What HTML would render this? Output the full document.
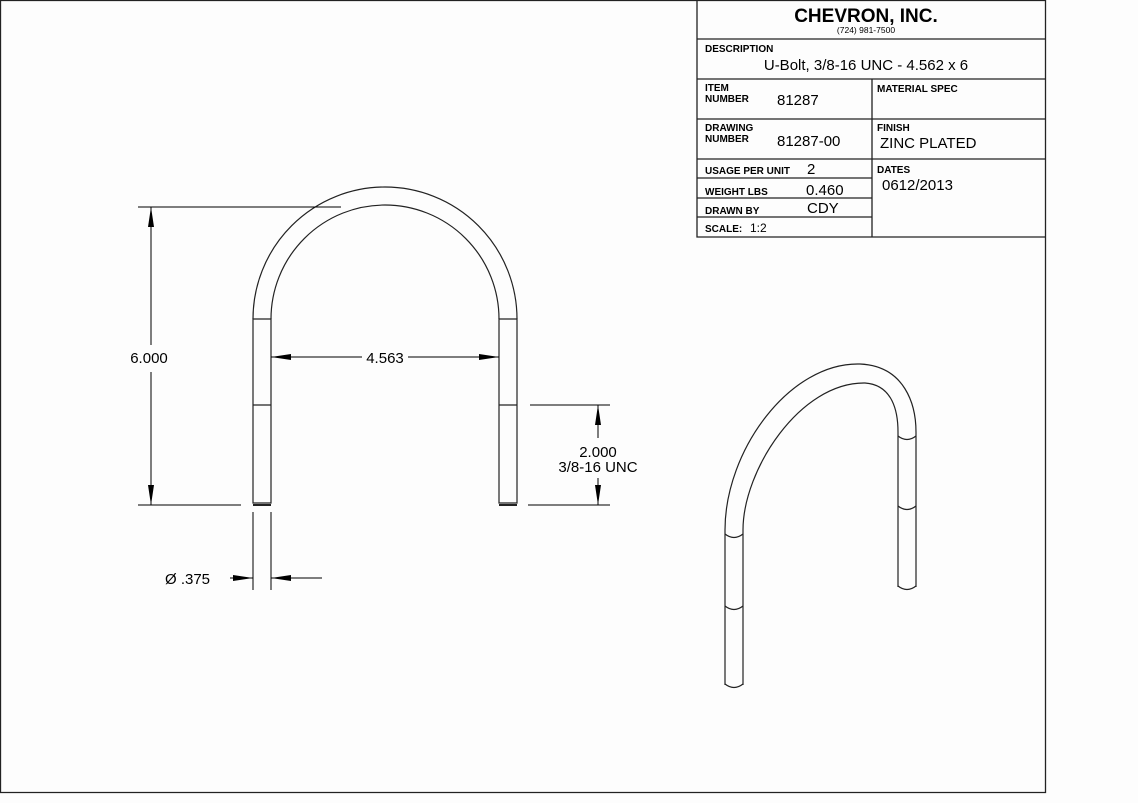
<!DOCTYPE html>
<html><head><meta charset="utf-8"><style>
html,body{margin:0;padding:0;background:#fdfdfd;}
svg{display:block;font-family:"Liberation Sans",sans-serif;}
.b{font-weight:bold;font-size:10px;}
</style></head><body>
<svg width="1138" height="803" viewBox="0 0 1138 803" xmlns="http://www.w3.org/2000/svg">
<defs>
<marker id="a" viewBox="0 0 20 8" refX="20" refY="4" markerWidth="20" markerHeight="8" markerUnits="userSpaceOnUse" orient="auto">
<path d="M0,1 L20,4 L0,7 Z" fill="#000"/></marker>
</defs>
<g fill="none" stroke="#222" stroke-width="1.3">
<path d="M0.5,0.5 H1045.5 V792.5 H0.5 Z"/>
<!-- title block -->
<path d="M697,0 V237 H1045.5 M697,39 H1045.5 M697,79 H1045.5 M697,119 H1045.5 M697,159 H1045.5 M872,79 V237 M697,178 H872 M697,198 H872 M697,217 H872"/>
</g>
<g fill="#000">
<text x="866" y="22" text-anchor="middle" font-weight="bold" font-size="19">CHEVRON, INC.</text>
<text x="866" y="33" text-anchor="middle" font-size="8.5">(724) 981-7500</text>
<text x="705" y="52" class="b">DESCRIPTION</text>
<text x="866" y="70" text-anchor="middle" font-size="15">U-Bolt, 3/8-16 UNC - 4.562 x 6</text>
<text x="705" y="91" class="b">ITEM</text><text x="705" y="102" class="b">NUMBER</text>
<text x="777" y="105" font-size="15">81287</text>
<text x="877" y="92" class="b">MATERIAL SPEC</text>
<text x="705" y="131" class="b">DRAWING</text><text x="705" y="142" class="b">NUMBER</text>
<text x="777" y="146" font-size="15">81287-00</text>
<text x="877" y="131" class="b">FINISH</text>
<text x="880" y="148" font-size="15">ZINC PLATED</text>
<text x="705" y="174" class="b">USAGE PER UNIT</text>
<text x="807" y="174" font-size="15">2</text>
<text x="877" y="173" class="b">DATES</text>
<text x="882" y="190" font-size="15">0612/2013</text>
<text x="705" y="195" class="b">WEIGHT LBS</text>
<text x="806" y="195" font-size="15">0.460</text>
<text x="705" y="214" class="b">DRAWN BY</text>
<text x="807" y="213" font-size="15">CDY</text>
<text x="705" y="232" class="b" font-size="11">SCALE:</text>
<text x="750" y="232" font-size="12">1:2</text>
</g>
<!-- front view -->
<g fill="none" stroke="#222" stroke-width="1.2">
<path d="M253,319 A132,132 0 0 1 517,319"/>
<path d="M271,319 A114,114 0 0 1 499,319"/>
<path d="M253,319 V503 H271 V319 Z M253,405 H271"/>
<path d="M499,319 V503 H517 V319 Z M499,405 H517"/>
<path d="M253,505 H271 M499,505 H517" stroke-width="2"/>
</g>
<g fill="none" stroke="#000" stroke-width="1">
<path d="M138,207 H341 M138,505 H241"/>
<path d="M151,345 V207" marker-end="url(#a)"/><path d="M151,372 V505" marker-end="url(#a)"/>
<path d="M362,357 H271" marker-end="url(#a)"/><path d="M408,357 H499" marker-end="url(#a)"/>
<path d="M530,405 H610 M528,505 H610"/>
<path d="M598,438 V405" marker-end="url(#a)"/><path d="M598,478 V505" marker-end="url(#a)"/>
<path d="M253,512 V590 M271,512 V590"/>
<path d="M230,578 H253" marker-end="url(#a)"/><path d="M322,578 H271" marker-end="url(#a)"/>
</g>
<g fill="#000" font-size="15">
<text x="149" y="363" text-anchor="middle">6.000</text>
<text x="385" y="363" text-anchor="middle">4.563</text>
<text x="598" y="457" text-anchor="middle">2.000</text>
<text x="598" y="472" text-anchor="middle">3/8-16 UNC</text>
<text x="165" y="584">Ø .375</text>
</g>
<!-- iso view -->
<g fill="none" stroke="#222" stroke-width="1.2">
<path d="M725,530 C725,450 790,362 860,364 C905,366 916,405 916,432"/>
<path d="M743,530 C743,470 800,382 865,383 C893,385 898,412 898,432"/>
<path d="M725,530 V685 M743,530 V685 M898,432 V587 M916,432 V587"/>
<path d="M725,534 Q734,541 743,534 M725,606 Q734,613 743,606 M725,684 Q734,691 743,684"/>
<path d="M898,436 Q907,443 916,436 M898,506 Q907,513 916,506 M898,586 Q907,593 916,586"/>
</g>
</svg>
</body></html>
